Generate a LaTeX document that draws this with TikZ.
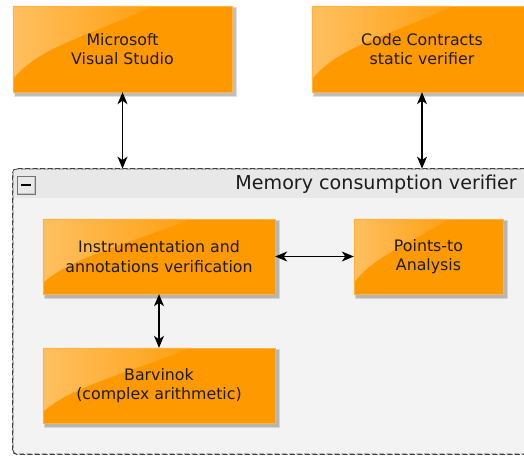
\documentclass[tikz,border=0pt]{standalone}
\usepackage{fontspec}
\setmainfont{DejaVu Sans}
\usetikzlibrary{arrows.meta,backgrounds,calc}
\definecolor{boxorange}{RGB}{255,153,0}
\definecolor{groupfill}{RGB}{243,243,243}
\definecolor{headfill}{RGB}{232,232,232}
\definecolor{txt}{RGB}{28,28,28}
\begin{document}
\begin{tikzpicture}[x=1pt,y=-1pt,
  comp/.style={rectangle, inner sep=0pt, align=center, text=txt,
    font=\fontsize{15.8}{19.5}\selectfont},
  link/.style={{Stealth[length=12pt,width=10pt,inset=3.5pt]}-{Stealth[length=12pt,width=10pt,inset=3.5pt]}, line width=1.2pt, black},
  groupbox/.style={rectangle, draw=black!75, dashed, dash pattern=on 5pt off 2.5pt, line width=0.8pt, rounded corners=4pt, fill=groupfill, inner sep=0pt},
]
\useasboundingbox (0,0) rectangle (524,455);
\clip (0,0) rectangle (524,455);

\node[comp, minimum width=219pt, minimum height=86pt] (vs) at (122.5,49) {Microsoft\\Visual Studio};
\node[comp, minimum width=220pt, minimum height=86pt] (cc) at (422,49) {Code Contracts\\static verifier};
\node[comp, minimum width=232pt, minimum height=75pt] (inst) at (159,256.5) {Instrumentation and\\annotations verification};
\node[comp, minimum width=149pt, minimum height=75pt] (pts) at (428.5,256.5) {Points-to\\Analysis};
\node[comp, minimum width=232pt, minimum height=75pt] (barv) at (159,385.5) {Barvinok\\(complex arithmetic)};

\node[anchor=east, inner sep=0pt, text=txt, font=\fontsize{19.1}{22}\selectfont] (title) at (517,184) {Memory consumption verifier};

\begin{scope}[on background layer]
  \node[groupbox, minimum width=527pt, minimum height=285pt] (group) at (276.5,311.5) {};
  \fill[headfill] ([shift={(1,1)}]group.north west) -- ([shift={(-1,1)}]group.north east) -- ([shift={(-1,29)}]group.north east) -- ([shift={(1,29)}]group.north west) -- cycle;
  \draw[black!75, dash pattern=on 5pt off 2.5pt, line width=0.8pt, rounded corners=4pt] (group.south west) rectangle (group.north east);
  % collapse icon
  \filldraw[fill=headfill!85!black, draw=black!55, line width=0.6pt] (17,176) rectangle (35,194);
  \fill[headfill!95!white] (18,177) rectangle (34,193);
  \draw[black, line width=2pt] (21,185) -- (31,185);
  \foreach \n in {vs,cc,inst,pts,barv}{
    \fill[black, opacity=0.12] ([shift={(1.5,1.5)}]\n.north west) rectangle ([shift={(5,5)}]\n.south east);
    \fill[black, opacity=0.15] ([shift={(2,2)}]\n.north west) rectangle ([shift={(3.5,3.5)}]\n.south east);
    \fill[boxorange] (\n.north west) rectangle (\n.south east);
    \begin{scope}
      \clip (\n.north west) rectangle (\n.south east);
      \shade[left color=white!38!boxorange, right color=white!6!boxorange]
        (\n.north west) -- ($(\n.north west)!0.64!(\n.north east)$)
        .. controls ($(\n.north west)!0.35!(\n.south east)$) and ($(\n.north west)!0.12!(\n.south east)+(0,30)$) ..
        ($(\n.north west)!0.85!(\n.south west)$) -- cycle;
    \end{scope}
    \draw[boxorange!75!white, line width=0.6pt] (\n.north west) rectangle (\n.south east);
  }
\end{scope}

\draw[link] (vs.south) -- (vs.south |- group.north);
\draw[link] (cc.south) -- (cc.south |- group.north);
\draw[link] (inst.east) -- (pts.west);
\draw[link] (inst.south) -- (barv.north);
\end{tikzpicture}
\end{document}
